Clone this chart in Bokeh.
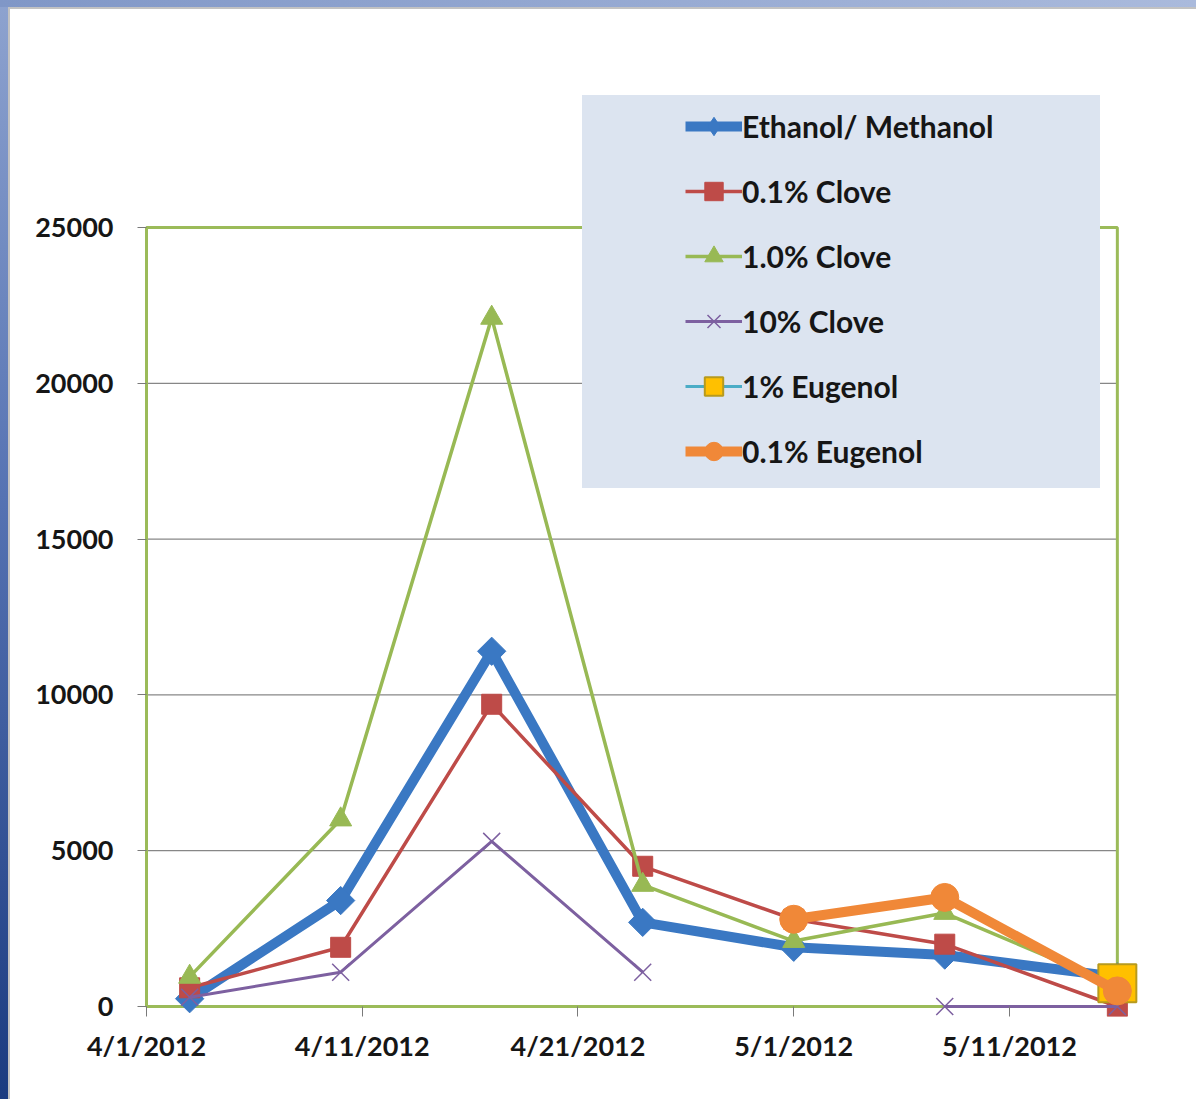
import numpy as np
from bokeh.plotting import figure
from bokeh.models import (Range1d, FixedTicker, DatetimeTickFormatter, Legend,
                          LegendItem, BoxAnnotation)
from bokeh.embed import file_html
from bokeh.resources import INLINE

nan = np.nan

# sampling dates and counts per treatment
dates = ["2012-04-03", "2012-04-10", "2012-04-17", "2012-04-24",
         "2012-05-01", "2012-05-08", "2012-05-16"]
ethanol_methanol = [250, 3400, 11400, 2700, 1900, 1650, 950]
clove_0_1 = [600, 1900, 9700, 4500, 2800, 2000, 0]
clove_1_0 = [950, 6000, 22100, 3900, 2100, 3000, 650]
clove_10 = [300, 1100, 5300, 1100, nan, 0, 0]
eugenol_1 = [nan, nan, nan, nan, nan, nan, 750]
eugenol_0_1 = [nan, nan, nan, nan, 2800, 3500, 500]

series_names = ["Ethanol/ Methanol", "0.1% Clove", "1.0% Clove",
                "10% Clove", "1% Eugenol", "0.1% Eugenol"]

x_tick_dates = ["2012-04-01", "2012-04-11", "2012-04-21", "2012-05-01", "2012-05-11"]
y_ticks = [0, 5000, 10000, 15000, 20000, 25000]
axis_start, axis_end = "2012-04-01", "2012-05-16"


def to_ms(d):
    return np.array(d, dtype="datetime64[ms]").astype("int64").astype(float)


DAY = 86400000.0
x = to_ms(dates)
x0, x1 = float(to_ms(axis_start)), float(to_ms(axis_end))
y_lo, y_hi = y_ticks[0], y_ticks[-1]

FONT = "Lato"
TXT = "#161616"
GREEN_BORDER = "#9BBB59"

page_bg = ("linear-gradient(#ffffff,#ffffff) 10px 9px / 100% 100% no-repeat, "
           "linear-gradient(#c2c2c2,#c2c2c2) 8px 7px / 100% 100% no-repeat, "
           "linear-gradient(to right, #8097c7, #aabadc) 0 0 / 100% 7px no-repeat, "
           "linear-gradient(to bottom, #8ea3cf 0%, #5673b3 45%, #1b3b80 100%)")

# the frame reaches a little past the bordered plot area so that markers on
# its edges and the legend panel above it are drawn whole
p = figure(width=1196, height=1099, x_axis_type="datetime",
           x_range=Range1d(x0 - 0.139 * DAY, x1 + 2.0 * DAY),
           y_range=Range1d(-321, 29397),
           output_backend="svg", toolbar_location=None,
           min_border_left=143, min_border_right=36,
           min_border_top=90, min_border_bottom=83,
           background_fill_color="white", border_fill_color=None,
           outline_line_color=None,
           styles={"background": page_bg})

p.xgrid.visible = False
p.ygrid.visible = False

# horizontal grid lines inside the plot area
grid_vals = y_ticks[1:-1]
p.segment(x0=[x0] * len(grid_vals), x1=[x1] * len(grid_vals),
          y0=grid_vals, y1=grid_vals, line_color="#878787", line_width=1.3,
          level="underlay")

# plot area border
p.add_layout(BoxAnnotation(left=x0, right=x1, bottom=y_lo, top=y_hi,
                           fill_color=None, fill_alpha=0,
                           line_color=GREEN_BORDER, line_alpha=1.0,
                           line_width=3, level="underlay"))

# axes
xa = p.xaxis[0]
xa.ticker = FixedTicker(ticks=list(to_ms(x_tick_dates)))
fmt = "%-m/%-d/%Y"
xa.formatter = DatetimeTickFormatter(days=fmt, months=fmt, years=fmt,
                                     hours=fmt, hourmin=fmt, minutes=fmt)
xa.axis_line_color = None
xa.major_tick_in = 10
xa.major_tick_out = 0
xa.minor_tick_line_color = None
xa.major_tick_line_color = "#7a7a7a"
xa.major_label_standoff = 12

ya = p.yaxis[0]
ya.ticker = FixedTicker(ticks=y_ticks)
ya.axis_line_color = None
ya.major_tick_in = 3
ya.major_tick_out = 6
ya.minor_tick_line_color = None
ya.major_tick_line_color = "#7a7a7a"
ya.major_label_standoff = 24

for ax in (xa, ya):
    ax.major_label_text_font = FONT
    ax.major_label_text_font_style = "bold"
    ax.major_label_text_font_size = "27px"
    ax.major_label_text_color = TXT

# series: line style plus marker, and the marker used for the legend key
styles = [
    dict(y=ethanol_methanol, color="#3A78C3", lw=10, marker="square", size=20,
         angle=np.pi / 4, fill="#3A78C3", mline="#3A78C3", mlw=1,
         key="diamond"),
    dict(y=clove_0_1, color="#BE4B48", lw=3.5, marker="square", size=20,
         angle=0, fill="#BE4B48", mline="#BE4B48", mlw=1, key=None),
    dict(y=clove_1_0, color="#98B954", lw=3.5, marker="triangle", size=22,
         angle=0, fill="#98B954", mline="#98B954", mlw=1, key=None),
    dict(y=clove_10, color="#7D60A0", lw=3, marker="x", size=24,
         angle=0, fill="#7D60A0", mline="#7D60A0", mlw=1.5, key=None),
    dict(y=eugenol_1, color="#4BACC6", lw=3, marker="square", size=38,
         angle=0, fill="#FFC000", mline="#B79A1E", mlw=2, key=None),
    dict(y=eugenol_0_1, color="#F08838", lw=10, marker="circle", size=28,
         angle=0, fill="#F08838", mline="#F08838", mlw=1, key=None),
]

items = []
for name, s in zip(series_names, styles):
    ln = p.line(x=x, y=s["y"], line_color=s["color"], line_width=s["lw"],
                line_join="round")
    mk = p.scatter(x=x, y=s["y"], marker=s["marker"], size=s["size"],
                   angle=s["angle"], fill_color=s["fill"],
                   line_color=s["mline"], line_width=s["mlw"])
    key = mk
    if s["key"] is not None:
        # legend-only marker (no data points of its own)
        key = p.scatter(x=[nan], y=[nan], marker=s["key"], size=s["size"],
                        fill_color=s["fill"], line_color=s["mline"],
                        line_width=s["mlw"])
    items.append(LegendItem(label=name, renderers=[ln, key]))

# legend panel background
dummy = p.scatter(x=[x0], y=[0], size=1, fill_alpha=0, line_alpha=0)
panel = Legend(items=[LegendItem(label=" ", renderers=[dummy])],
               location=(439, 528), glyph_width=518, glyph_height=393,
               label_width=0, label_height=0, label_standoff=0, padding=0,
               margin=0, spacing=0, label_text_font_size="1px",
               border_line_color=None, background_fill_color="#DCE4F0",
               background_fill_alpha=1.0)
p.add_layout(panel, "center")

legend = Legend(items=items, location=(542, 542), glyph_width=57,
                glyph_height=46, label_height=46, label_standoff=0, spacing=19,
                padding=0, margin=0, border_line_color=None,
                background_fill_alpha=0, label_text_font=FONT,
                label_text_font_style="bold", label_text_font_size="30px",
                label_text_color=TXT)
p.add_layout(legend, "center")

open("out.html", "w").write(file_html(p, INLINE))
